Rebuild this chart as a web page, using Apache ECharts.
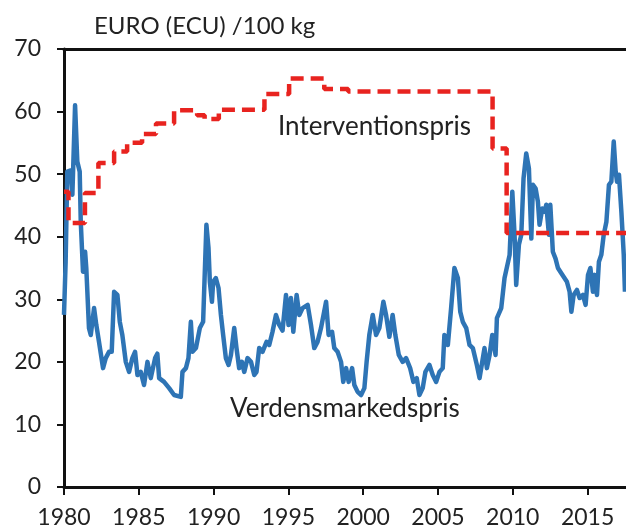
<!DOCTYPE html>
<html>
<head>
    <meta charset="UTF-8" />
    <title>Interventionspris og verdensmarkedspris</title>
    <style>
        * { margin: 0; padding: 0; }
        html, body { width: 626px; height: 531px; background: #fff; }
        #chart { width: 626px; height: 531px; }
    </style>
</head>
<body>
    <div id="chart"></div>
    <script src="https://cdn.jsdelivr.net/npm/echarts@6/dist/echarts.min.js"></script>
    <script type="text/javascript">
        // y-axis ticks and x-axis range
        var yTicks = [0, 10, 20, 30, 40, 50, 60, 70];
        var xStart = 1980, xEnd = 2017.57, xStep = 5;

        // Interventionspris (step line), value holds from the year until the next one
        var interYears = [1980.0, 1980.3, 1981.4, 1982.3, 1983.35, 1984.22, 1985.22, 1986.15, 1987.36, 1988.9, 1989.4, 1990.35,
            1993.4, 1995.05, 1997.4, 1999.0, 2008.65, 2009.59, 2017.57];
        var interValues = [47.2, 42.2, 47, 51.8, 53.6, 55, 56.4, 58.1, 60.2, 59.4, 58.8, 60.3,
            62.8, 65.3, 63.6, 63.2, 54.1, 40.6, 40.6];

        // Verdensmarkedspris
        var mktYears = [1980.00, 1980.11, 1980.22, 1980.45, 1980.56, 1980.74, 1980.89, 1981.05, 1981.12, 1981.27,
            1981.41, 1981.49, 1981.67, 1981.79, 1982.01, 1982.16, 1982.34, 1982.46, 1982.61, 1982.79,
            1983.01, 1983.19, 1983.35, 1983.57, 1983.73, 1983.90, 1984.13, 1984.35, 1984.57, 1984.75,
            1984.91, 1985.13, 1985.35, 1985.58, 1985.80, 1986.09, 1986.24, 1986.36, 1986.69, 1987.03,
            1987.36, 1987.48, 1987.81, 1987.92, 1988.15, 1988.32, 1988.48, 1988.59, 1988.82, 1989.08,
            1989.30, 1989.52, 1989.66, 1989.75, 1989.89, 1989.97, 1990.15, 1990.33, 1990.49, 1990.64,
            1990.82, 1991.00, 1991.16, 1991.38, 1991.53, 1991.71, 1991.89, 1992.05, 1992.27, 1992.50,
            1992.72, 1992.87, 1993.05, 1993.27, 1993.54, 1993.72, 1993.94, 1994.17, 1994.39, 1994.61,
            1994.84, 1995.01, 1995.17, 1995.33, 1995.55, 1995.73, 1995.95, 1996.29, 1996.51, 1996.73,
            1996.95, 1997.18, 1997.52, 1997.69, 1997.92, 1998.07, 1998.29, 1998.52, 1998.67, 1998.86,
            1999.03, 1999.26, 1999.41, 1999.63, 1999.86, 2000.08, 2000.23, 2000.41, 2000.64, 2000.86,
            2001.08, 2001.35, 2001.53, 2001.75, 2001.97, 2002.15, 2002.38, 2002.64, 2002.87, 2003.14,
            2003.36, 2003.58, 2003.76, 2003.98, 2004.16, 2004.43, 2004.65, 2004.88, 2005.10, 2005.32,
            2005.43, 2005.66, 2005.88, 2006.10, 2006.33, 2006.49, 2006.66, 2006.89, 2007.11, 2007.33,
            2007.60, 2007.78, 2007.96, 2008.11, 2008.27, 2008.45, 2008.63, 2008.85, 2008.94, 2009.23,
            2009.45, 2009.79, 2009.97, 2010.12, 2010.23, 2010.41, 2010.57, 2010.72, 2010.90, 2011.08,
            2011.24, 2011.35, 2011.53, 2011.68, 2011.79, 2011.97, 2012.13, 2012.24, 2012.42, 2012.51,
            2012.68, 2012.86, 2013.02, 2013.18, 2013.40, 2013.62, 2013.80, 2013.92, 2014.07, 2014.29,
            2014.47, 2014.69, 2014.87, 2015.03, 2015.19, 2015.36, 2015.48, 2015.63, 2015.76, 2015.92,
            2016.08, 2016.26, 2016.43, 2016.59, 2016.75, 2016.88, 2016.97, 2017.10, 2017.26, 2017.42,
            2017.50];
        var mktValues = [27.5, 36, 50.4, 50.6, 46.7, 61, 52, 50.4, 42.4, 34.4,
            37.6, 35, 25.4, 24.3, 28.6, 25.9, 23.2, 23.4, 19, 20.6,
            21.6, 21.6, 31.2, 30.7, 26.4, 24.3, 20, 18.4, 20.6, 21.6,
            17.9, 18.4, 16.3, 20, 17.4, 20.6, 21.3, 17.4, 16.8, 15.8,
            14.7, 14.4, 14.4, 18.4, 19, 20.6, 26.4, 21.6, 22.2, 25.4,
            26.4, 41.9, 38.2, 32.8, 29.6, 32.8, 33.4, 31.8, 27.5, 24.3,
            20.6, 19.5, 21.1, 25.4, 22.2, 19, 20, 18.4, 20.6, 20,
            17.9, 18.4, 22.2, 21.6, 23.2, 22.7, 24.8, 27.5, 25.9, 25,
            30.7, 25.9, 30.2, 24.8, 30.7, 27.5, 28.6, 29.1, 25.9, 22.2,
            23.2, 25.4, 29.6, 24.3, 24.8, 22.2, 21.6, 20, 16.8, 19,
            16.8, 19, 16.3, 15.2, 14.7, 15.8, 20, 24.3, 27.5, 24.3,
            25.4, 29.6, 27.5, 24, 27.5, 24.3, 21.1, 20, 20.6, 19,
            16.8, 17.4, 14.7, 15.8, 18.4, 19.5, 17.9, 16.8, 18.4, 19,
            24.3, 22.7, 28.6, 35, 33.4, 28, 26.4, 25.4, 22.7, 22.2,
            19.5, 17.4, 20, 22.2, 19, 21.1, 24.3, 21.1, 27, 28.6,
            33.4, 37.1, 47.2, 40.3, 32.3, 38.7, 40.3, 49.3, 53.3, 50.9,
            39.7, 48.3, 47.7, 45.6, 41.9, 44.5, 44, 45.1, 40.3, 45.1,
            37.6, 36.5, 35, 34.4, 33.6, 32.8, 31.2, 28, 30.7, 31.5,
            30.2, 30.7, 29.1, 33.9, 35, 31.2, 33.9, 30.7, 36, 37.1,
            40.3, 42.4, 48.3, 48.8, 55.2, 50.4, 48.8, 49.9, 44, 37.1,
            31.2];

        function zip(xs, ys) {
            return xs.map(function (x, i) { return [x, ys[i]]; });
        }

        var fontName = "Lato, 'Liberation Sans', sans-serif";
        var axisColor = "#111";

        var myChart = echarts.init(document.getElementById("chart"));
        var option = {
            animation: false,
            backgroundColor: "#fff",
            grid: { left: 64, right: 0, top: 49, bottom: 44, outerBoundsMode: "none" },
            xAxis: [
                {
                    type: "value",
                    min: xStart,
                    max: xEnd,
                    interval: xStep,
                    splitLine: { show: false },
                    axisLine: { lineStyle: { color: axisColor, width: 3 } },
                    axisTick: { length: 8, lineStyle: { color: axisColor, width: 2 } },
                    axisLabel: {
                        margin: 19,
                        fontSize: 23,
                        fontFamily: fontName,
                        color: "#222",
                        showMaxLabel: false,
                        formatter: function (v) { return v % 5 === 0 ? String(v) : ""; }
                    }
                },
                {
                    type: "value",
                    position: "top",
                    min: xStart,
                    max: xEnd,
                    axisLine: { show: true, lineStyle: { color: axisColor, width: 3 } },
                    axisTick: { show: false },
                    axisLabel: { show: false },
                    splitLine: { show: false }
                }
            ],
            yAxis: {
                type: "value",
                min: yTicks[0],
                max: yTicks[yTicks.length - 1],
                interval: 10,
                splitLine: { show: false },
                axisLine: { show: true, lineStyle: { color: axisColor, width: 3 } },
                axisTick: { show: true, length: 7, lineStyle: { color: axisColor, width: 2 } },
                axisLabel: { margin: 23, fontSize: 23, fontFamily: fontName, color: "#222" }
            },
            graphic: [
                { type: "text", left: 94, top: 14, style: { text: "EURO (ECU) /100 kg", font: "24px " + fontName, fill: "#222" } },
                { type: "text", left: 278, top: 114, style: { text: "Interventionspris", font: "26px " + fontName, fill: "#222" } },
                { type: "text", left: 230, top: 396, style: { text: "Verdensmarkedspris", font: "26px " + fontName, fill: "#222" } }
            ],
            series: [
                {
                    name: "Verdensmarkedspris",
                    type: "line",
                    data: zip(mktYears, mktValues),
                    showSymbol: false,
                    lineStyle: { color: "#2e74b5", width: 4.5, join: "round" }
                },
                {
                    name: "Interventionspris",
                    type: "line",
                    step: "end",
                    data: zip(interYears, interValues),
                    showSymbol: false,
                    lineStyle: { color: "#e8231f", width: 4.5, type: [13, 7] }
                }
            ]
        };
        myChart.setOption(option);
    </script>
</body>
</html>
